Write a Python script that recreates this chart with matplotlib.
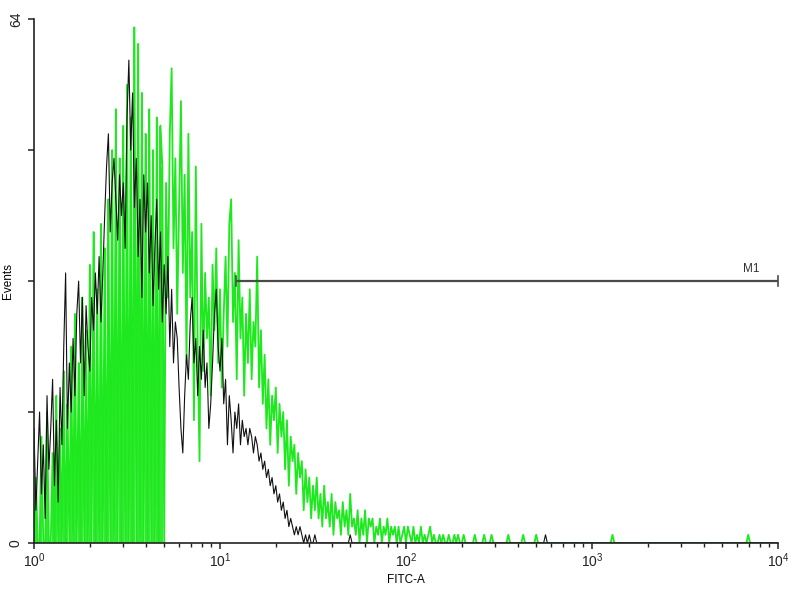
import numpy as np
import matplotlib
matplotlib.use('Agg')
import matplotlib.pyplot as plt
from matplotlib.ticker import LogLocator, FixedLocator, NullFormatter

plt.rcParams['font.family'] = ['Liberation Sans', 'DejaVu Sans']
plt.rcParams['mathtext.default'] = 'regular'

# channels: 100 per decade, channel i sits at 10**(i/100)
black_counts = [
	14, 4, 10, 16, 6, 12, 3, 18, 9, 14, 20, 7, 15, 5, 19, 12, 24, 33, 14, 22,
	16, 25, 18, 28, 32, 22, 30, 18, 29, 24, 21, 30, 26, 33, 28, 35, 27, 33, 40, 46,
	50, 38, 44, 47, 42, 37, 45, 40, 44, 36, 52, 59, 48, 55, 41, 47, 35, 42, 30, 45,
	38, 44, 33, 40, 29, 36, 42, 31, 38, 27, 34, 28, 35, 24, 31, 22, 27, 25, 19, 14,
	11, 18, 23, 20, 27, 30, 22, 25, 18, 24, 20, 26, 19, 22, 14, 17, 22, 28, 31, 24,
	21, 25, 17, 20, 12, 18, 15, 11, 16, 14, 17, 12, 15, 13, 14, 12, 14, 13, 11, 13,
	12, 10, 11, 9, 10, 8, 9, 7, 8, 6, 7, 5, 6, 4, 5, 3, 4, 2, 3, 2,
	1, 2, 1, 2, 1, 0, 1, 0, 1, 0, 0, 1, 0,
]
black_tail_ch = [170, 275]
black_tail_counts = [1, 1]

green_counts = [
	0, 8, 0, 0, 13, 0, 0, 16, 0, 0, 11, 0, 18, 0, 14, 0, 21, 0, 17, 0,
	24, 0, 28, 0, 22, 0, 30, 0, 26, 0, 34, 0, 38, 0, 31, 0, 39, 0, 36, 0,
	42, 0, 48, 0, 53, 0, 47, 0, 51, 0, 56, 0, 52, 0, 63, 0, 61, 0, 55, 0,
	50, 0, 53, 0, 48, 0, 52, 0, 51, 46, 0, 44, 30, 50, 58, 36, 47, 28, 41, 54,
	33, 45, 22, 50, 30, 38, 15, 46, 24, 10, 39, 21, 33, 25, 30, 18, 34, 26, 36, 22,
	31, 19, 28, 35, 24, 39, 42, 27, 33, 20, 37, 25, 30, 18, 28, 22, 31, 20, 27, 24,
	35, 19, 26, 17, 23, 14, 20, 12, 18, 15, 19, 11, 17, 13, 16, 9, 15, 7, 13, 10,
	12, 6, 11, 8, 10, 4, 9, 5, 8, 3, 7, 4, 8, 3, 6, 2, 7, 3, 5, 2,
	6, 1, 5, 3, 4, 1, 5, 2, 4, 1, 6, 2, 3, 1, 4, 0, 3, 1, 4, 0,
	3, 2, 3, 0, 2, 1, 3, 0, 2, 1, 3, 0, 2, 1, 2, 0, 2, 0, 1, 2,
	0, 2, 1, 0, 2, 0, 1, 0, 2, 0, 1, 0, 1, 2, 0, 1, 0, 0, 1, 0,
	1, 0, 0, 1, 0, 0, 1, 0, 1, 0, 0, 1, 0,
]
green_tail_ch = [237, 242, 246, 255, 263, 270, 311, 384]
green_tail_counts = [1, 1, 1, 1, 1, 1, 1, 1]

m1_range = (12.2, 10000)
m1_level = 32

n_ch = 401
black = np.zeros(n_ch)
black[:len(black_counts)] = black_counts
black[black_tail_ch] = black_tail_counts
green = np.zeros(n_ch)
green[:len(green_counts)] = green_counts
green[green_tail_ch] = green_tail_counts
chan = 10 ** (np.arange(n_ch) / 100)

GREEN = '#1ee81e'

fig = plt.figure(figsize=(8, 6), dpi=100)
ax = fig.add_axes([0.0425, 0.095, 0.93, 0.873])

ax.plot(chan, green, color=GREEN, lw=1.3)
# low channels: the green bars stand on the baseline
low = np.arange(n_ch) < 70
ax.vlines(chan[low], 0, green[low], color=GREEN, lw=1.3)
ax.plot(chan, black, color='#111111', lw=0.8)

# marker M1
ax.plot(m1_range, [m1_level, m1_level], color='#4a4a4a', lw=1.6,
	solid_capstyle='butt', clip_on=False)
for xv in m1_range:
	ax.plot([xv, xv], [m1_level - 0.6, m1_level + 0.6], color='#4a4a4a',
		lw=1.2, clip_on=False)
ax.text(7200, m1_level + 0.7, 'M1', fontsize=8.5, ha='center', va='bottom',
	color='#333333')

ax.set_xscale('log')
ax.set_xlim(1, 10000)
ax.set_ylim(0, 64)
ax.xaxis.set_major_locator(LogLocator(base=10, numticks=10))
ax.xaxis.set_minor_locator(LogLocator(base=10, subs=np.arange(2, 10), numticks=50))
ax.xaxis.set_minor_formatter(NullFormatter())
ax.yaxis.set_major_locator(FixedLocator([0, 16, 32, 48, 64]))
ax.set_yticklabels(['0', '', '', '', '64'], rotation=90, va='center')

for s in ['top', 'right']:
	ax.spines[s].set_visible(False)
for s in ['left', 'bottom']:
	ax.spines[s].set_linewidth(1.2)
	ax.spines[s].set_color('#222222')

ax.tick_params(axis='both', which='major', length=4, width=1.1, labelsize=10,
	direction='out', pad=2, colors='#222222')
ax.tick_params(axis='y', which='major', pad=4)
ax.tick_params(axis='x', which='minor', length=3, width=1.0, direction='out',
	colors='#222222')

ax.set_xlabel('FITC-A', fontsize=8.5, labelpad=3)
ax.set_ylabel('Events', fontsize=8.5)
ax.yaxis.set_label_coords(-0.027, 0.5)

fig.savefig('out.png', dpi=100)
